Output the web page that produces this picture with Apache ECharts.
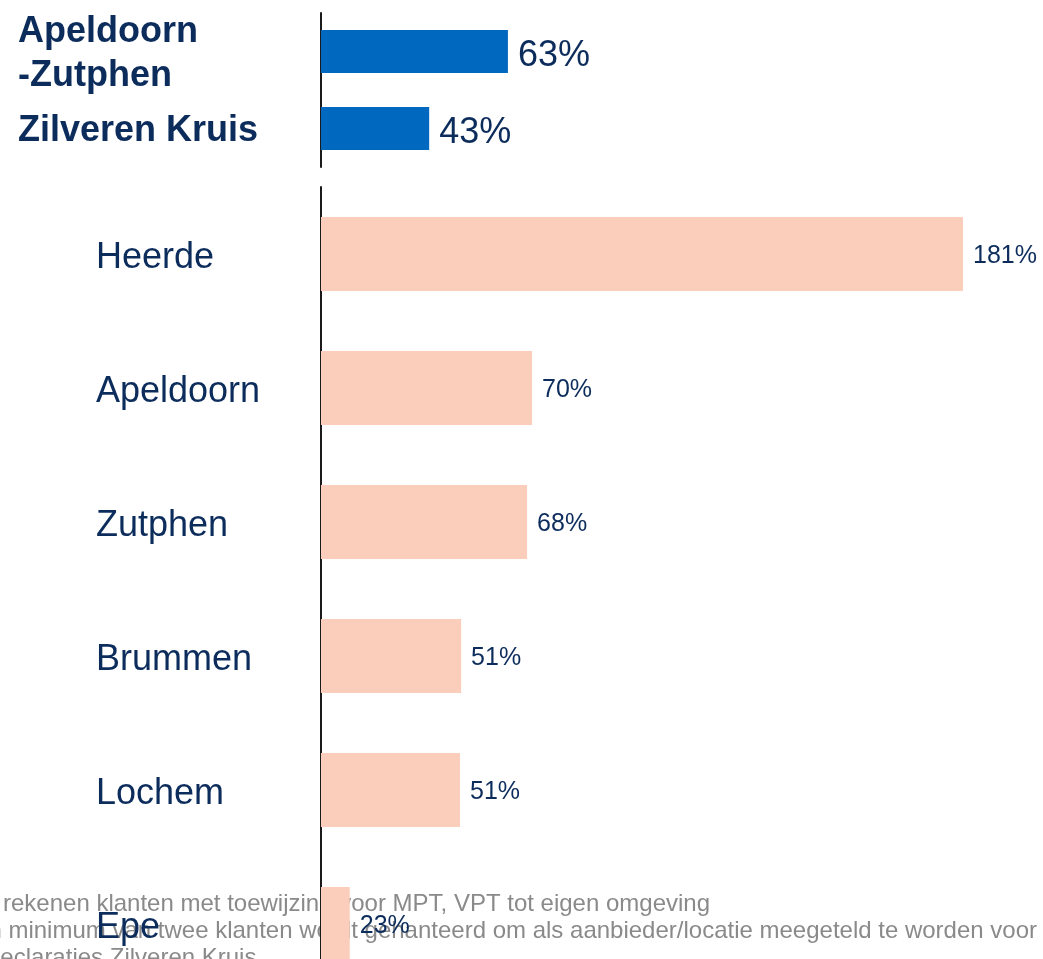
<!DOCTYPE html>
<html>
<head>
<meta charset="utf-8">
<script src="https://cdn.jsdelivr.net/npm/echarts@6/dist/echarts.min.js"></script>
<style>
  html, body { margin: 0; padding: 0; background: #fff; }
  #chart { width: 1043px; height: 959px; }
</style>
</head>
<body>
<div id="chart"></div>
<script>
// regio's (bovenste blok)
var regionNames = ['Apeldoorn\n-Zutphen', 'Zilveren Kruis'];
var regionBars = [52.7, 30.5];      // balklengte zoals getekend
var regionLabels = ['63%', '43%'];

// gemeenten (onderste blok)
var townNames = ['Heerde', 'Apeldoorn', 'Zutphen', 'Brummen', 'Lochem', 'Epe'];
var townBars = [181, 59.5, 58.1, 39.5, 39.2, 8.1];
var townLabels = ['181%', '70%', '68%', '51%', '51%', '23%'];

var footnotes = [
  'rekenen klanten met toewijzing voor MPT, VPT tot eigen omgeving',
  'Een minimum van twee klanten wordt gehanteerd om als aanbieder/locatie meegeteld te worden voor',
  'declaraties Zilveren Kruis'
];

var navy = '#0c2c5c';
var font = 'Liberation Sans, Arial, sans-serif';

// elke regel in een rich-blok, zodat de tekst iets lager kan staan
function richLines(v) {
  return v.split('\n').map(function (s) { return '{a|' + s + '}'; }).join('\n');
}

var chart = echarts.init(document.getElementById('chart'));

var option = {
  backgroundColor: '#fff',
  animation: false,
  textStyle: { fontFamily: font },
  grid: [
    { left: 321, right: 80, top: 13, height: 154, outerBoundsMode: 'none', containLabel: false },
    { left: 321, right: 80, top: 187, height: 804, outerBoundsMode: 'none', containLabel: false }
  ],
  xAxis: [
    { gridIndex: 0, type: 'value', min: 0, max: 181, show: false },
    { gridIndex: 1, type: 'value', min: 0, max: 181, show: false }
  ],
  yAxis: [
    {
      gridIndex: 0, type: 'category', data: regionNames, inverse: true,
      axisLine: { lineStyle: { color: '#1a1a1a', width: 2 } },
      axisTick: { show: false },
      axisLabel: {
        align: 'left', margin: 303, formatter: richLines,
        rich: {
          a: {
            color: navy, fontSize: 36, fontWeight: 'bold', fontFamily: font,
            lineHeight: 44, padding: [6, 0, 0, 0]
          }
        }
      }
    },
    {
      gridIndex: 1, type: 'category', data: townNames, inverse: true,
      axisLine: { lineStyle: { color: '#1a1a1a', width: 2 } },
      axisTick: { show: false },
      axisLabel: {
        align: 'left', margin: 225, formatter: richLines,
        rich: {
          a: {
            color: navy, fontSize: 36, fontFamily: font,
            lineHeight: 36, padding: [8, 0, 0, 0]
          }
        }
      }
    }
  ],
  series: [
    {
      type: 'bar', xAxisIndex: 0, yAxisIndex: 0,
      data: regionBars, barWidth: 43,
      itemStyle: { color: '#0068bf' },
      label: {
        show: true, position: 'right', distance: 10, offset: [0, 5],
        color: navy, fontSize: 36, fontFamily: font,
        formatter: function (p) { return regionLabels[p.dataIndex]; }
      }
    },
    {
      type: 'bar', xAxisIndex: 1, yAxisIndex: 1,
      data: townBars, barWidth: 74,
      itemStyle: { color: '#facebb' },
      label: {
        show: true, position: 'right', distance: 10, offset: [0, 2],
        color: navy, fontSize: 25, fontFamily: font,
        formatter: function (p) { return townLabels[p.dataIndex]; }
      }
    }
  ],
  graphic: [
    {
      type: 'text', left: 3, top: 892, z: 0, silent: true,
      style: { text: footnotes[0], fill: '#8a8a8a', fontSize: 24, fontFamily: font }
    },
    {
      type: 'text', right: 6, top: 919, z: 0, silent: true,
      style: { text: footnotes[1], fill: '#8a8a8a', fontSize: 24, fontFamily: font }
    },
    {
      type: 'text', left: -13, top: 946, z: 0, silent: true,
      style: { text: footnotes[2], fill: '#8a8a8a', fontSize: 24, fontFamily: font }
    }
  ]
};

chart.setOption(option);
</script>
</body>
</html>
